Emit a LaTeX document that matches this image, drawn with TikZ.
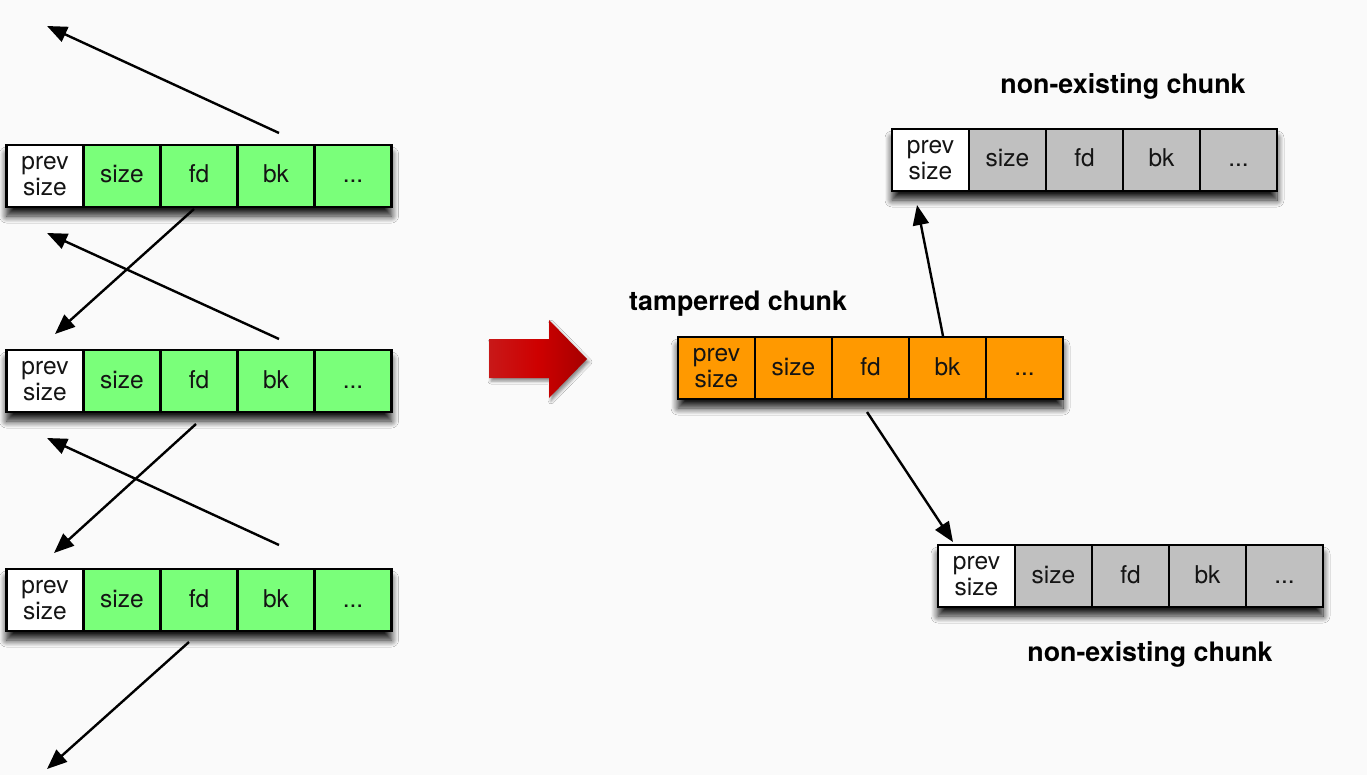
\documentclass[tikz,border=0pt]{standalone}
\usepackage{fontspec}
\setmainfont{TeX Gyre Heros}
\usetikzlibrary{arrows.meta,shadows.blur}
\definecolor{bgc}{RGB}{250,250,250}
\definecolor{cgreen}{RGB}{122,255,122}
\definecolor{corange}{RGB}{255,153,0}
\definecolor{cgray}{RGB}{192,192,192}
\definecolor{txt}{RGB}{20,20,20}
\definecolor{redA}{RGB}{200,24,24}
\definecolor{redB}{RGB}{206,0,0}
\definecolor{redC}{RGB}{165,0,0}
\tikzset{
  cell/.style={draw=black, line width=2.4pt, minimum width=77pt, minimum height=62pt,
    inner sep=0pt, outer sep=0pt, text=txt, align=center,
    font=\fontsize{24.5}{26}\selectfont},
  onecell/.style={cell, text height=18pt, text depth=4pt},
  chunkshadow/.style={fill=white, blur shadow={shadow xshift=0pt, shadow yshift=-9pt,
    shadow blur radius=7pt, shadow blur steps=12, shadow opacity=90}},
  link/.style={line width=2.4pt, draw=black, -{Triangle[length=20pt,width=16pt]}},
  label/.style={anchor=base, text=black, font=\fontsize{26.8}{30}\bfseries\selectfont},
}
% name, x, y, prev colour, body colour
\newcommand\mychunk[5]{%
  \path[chunkshadow] (#2,#3) rectangle ++(385,62);
  \node[cell, fill=#4, anchor=north west] (#1p) at (#2,#3) {prev\\size};
  \node[onecell, fill=#5, anchor=west] (#1s) at (#1p.east) {size};
  \node[onecell, fill=#5, anchor=west] (#1f) at (#1s.east) {fd};
  \node[onecell, fill=#5, anchor=west] (#1b) at (#1f.east) {bk};
  \node[onecell, fill=#5, anchor=west] (#1d) at (#1b.east) {...};
}
\begin{document}
\begin{tikzpicture}[x=1pt, y=-1pt]
\fill[bgc] (0,0) rectangle (1367,775);
\useasboundingbox (0,0) rectangle (1367,775);

% left chain
\mychunk{La}{6.5}{145}{white}{cgreen}
\mychunk{Lb}{6.5}{350}{white}{cgreen}
\mychunk{Lc}{6.5}{569}{white}{cgreen}

\coordinate (t1) at (47,26);
\coordinate (t2) at (55,334);
\coordinate (t3) at (47,233);
\coordinate (t4) at (54,553);
\coordinate (t5) at (47,438);
\coordinate (t6) at (47,769);

\draw[link] ([shift={(3,-12)}]Lab.north) -- (t1);
\draw[link] ([shift={(-5,2)}]Laf.south) -- (t2);
\draw[link] ([shift={(3,-11)}]Lbb.north) -- (t3);
\draw[link] ([shift={(-3,12)}]Lbf.south) -- (t4);
\draw[link] ([shift={(3,-24)}]Lcb.north) -- (t5);
\draw[link] ([shift={(-10,11)}]Lcf.south) -- (t6);

% red arrow
\path[blur shadow={shadow xshift=2pt, shadow yshift=-3pt, shadow blur radius=3pt, shadow opacity=45}]
  (489,339) -- (549,339) -- (549,320) -- (587,359) -- (549,398) -- (549,378) -- (489,378) -- cycle;
\shade[left color=redA, right color=redC, middle color=redB]
  (489,339) -- (549,339) -- (549,320) -- (587,359) -- (549,398) -- (549,378) -- (489,378) -- cycle;

% right side
\mychunk{N}{892}{129}{white}{cgray}
\mychunk{T}{678}{337}{corange}{corange}
\mychunk{M}{938}{545}{white}{cgray}

\node[label] (lN) at (1123,94) {non-existing chunk};
\node[label] (lT) at (738,311) {tamperred chunk};
\node[label] (lM) at (1150,661) {non-existing chunk};

\draw[link] ([shift={(-4.5,-1)}]Tb.north) -- ([shift={(-13.5,14)}]Np.south);
\draw[link] ([shift={(-3.5,13)}]Tf.south) -- ([shift={(-23.5,-3)}]Mp.north);
\end{tikzpicture}
\end{document}
